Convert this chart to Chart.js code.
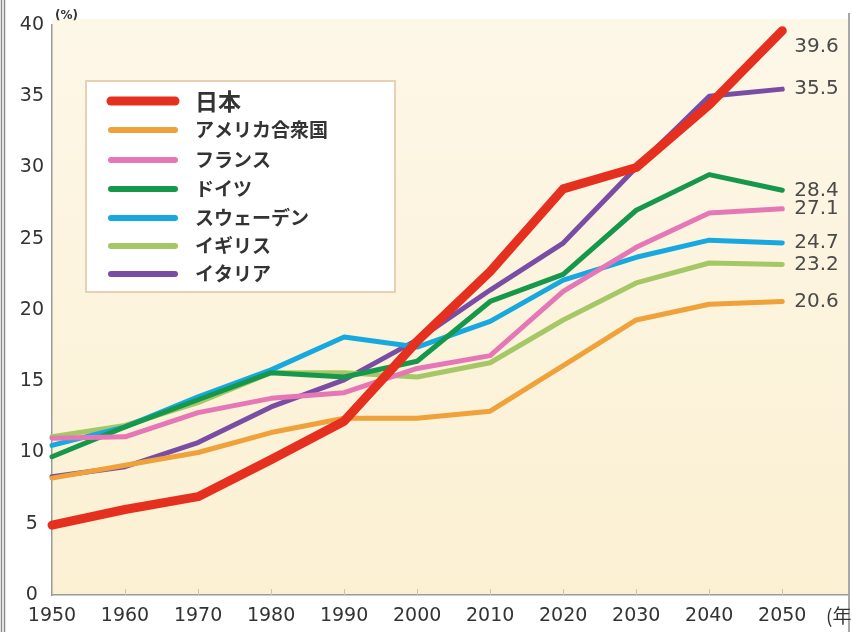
<!DOCTYPE html>
<html lang="ja">
<head>
<meta charset="utf-8">
<title>高齢化率の推移</title>
<script src="https://cdn.jsdelivr.net/npm/chart.js@4/dist/chart.umd.min.js"></script>
<style>
  html, body { margin: 0; padding: 0; background: #fff; }
  #wrap { position: relative; width: 852px; height: 632px; }
</style>
</head>
<body>
<div id="wrap"><canvas id="chart"></canvas></div>
<script>
// 年次と国別の値（%）
const years = [1950, 1960, 1970, 1980, 1990, 2000, 2010, 2020, 2030, 2040, 2050];
const names = ['日本', 'アメリカ合衆国', 'フランス', 'ドイツ', 'スウェーデン', 'イギリス', 'イタリア'];

const japan   = [4.9, 6.0, 6.9, 9.5, 12.2, 17.8, 22.7, 28.5, 30.0, 34.4, 39.6];
const usa     = [8.2, 9.1, 10.0, 11.4, 12.4, 12.4, 12.9, 16.1, 19.3, 20.4, 20.6];
const france  = [11.0, 11.1, 12.8, 13.8, 14.2, 15.9, 16.8, 21.3, 24.4, 26.8, 27.1];
const germany = [9.7, 11.8, 13.7, 15.6, 15.3, 16.4, 20.6, 22.5, 27.0, 29.5, 28.4];
const sweden  = [10.5, 11.8, 13.9, 15.8, 18.1, 17.4, 19.2, 22.1, 23.7, 24.9, 24.7];
const uk      = [11.1, 11.9, 13.5, 15.6, 15.6, 15.3, 16.3, 19.3, 21.9, 23.3, 23.2];
const italy   = [8.3, 9.0, 10.7, 13.2, 15.1, 17.9, 21.4, 24.7, 30.0, 35.0, 35.5];

const yMin = 0, yMax = 40, yStep = 5;

const series = [japan, usa, france, germany, sweden, uk, italy];
const colors = ['#e5301f', '#efa13a', '#e577b6', '#15984b', '#17a8e0', '#a6c765', '#7a4da4'];
const widths = [9, 5, 5, 5, 5, 5, 5];

const NUM_FONT = 'DejaVu Sans';
const JP_FONT = '"Noto Sans CJK JP", sans-serif';

const datasets = series.map((vals, i) => ({
    label: names[i],
    data: years.map((yr, k) => ({ x: yr, y: vals[k] })),
    borderColor: colors[i],
    backgroundColor: colors[i],
    borderWidth: widths[i],
    borderCapStyle: 'round',
    borderJoinStyle: 'round',
    pointRadius: 0,
    tension: 0,
    clip: false
}));

const decor = {
    id: 'decor',
    beforeDraw(chart) {
        const { ctx, chartArea: a, width, height } = chart;
        ctx.save();
        ctx.fillStyle = '#fff';
        ctx.fillRect(0, 0, width, height);

        // クリーム色の描画領域
        const g = ctx.createLinearGradient(0, a.top - 6, 0, a.bottom);
        g.addColorStop(0, '#fdf7e8');
        g.addColorStop(1, '#fbf0d2');
        ctx.fillStyle = g;
        ctx.fillRect(a.left, a.top - 6, a.right - a.left, a.bottom - a.top + 6);

        // 枠線
        ctx.strokeStyle = '#8a8a8a';
        ctx.lineWidth = 1.5;
        ctx.beginPath();
        ctx.moveTo(1.5, 0); ctx.lineTo(1.5, height);
        ctx.moveTo(4.5, 0); ctx.lineTo(4.5, height);
        ctx.moveTo(a.right + 1, a.top - 12); ctx.lineTo(a.right + 1, height);
        ctx.stroke();
        ctx.restore();
    },
    beforeDatasetsDraw(chart) {
        const { ctx, chartArea: a, scales } = chart;
        ctx.save();
        ctx.strokeStyle = '#cfc4a8';
        ctx.lineWidth = 1;
        ctx.beginPath();
        years.slice(1).forEach(yr => {
            const x = Math.round(scales.x.getPixelForValue(yr)) + 0.5;
            ctx.moveTo(x, a.bottom);
            ctx.lineTo(x, a.bottom - 6);
        });
        ctx.stroke();
        ctx.restore();
    },
    afterDatasetsDraw(chart) {
        const { ctx, chartArea: a } = chart;
        ctx.save();

        // 2050年の値
        ctx.font = `20px ${NUM_FONT}`;
        ctx.fillStyle = '#4a4a4a';
        ctx.textAlign = 'left';
        ctx.textBaseline = 'middle';
        chart.data.datasets.forEach((ds, i) => {
            const pts = chart.getDatasetMeta(i).data;
            const last = pts[pts.length - 1];
            const y = Math.max(last.y, a.top + 22);
            ctx.fillText(ds.data[ds.data.length - 1].y.toFixed(1), last.x + 12, y);
        });

        // 単位
        ctx.font = `bold 12px ${NUM_FONT}`;
        ctx.fillStyle = '#333';
        ctx.fillText('(%)', a.left + 3, a.top - 9);
        ctx.font = `19px ${JP_FONT}`;
        ctx.fillText('(年)', 826, a.bottom + 21);

        // 凡例
        const box = { x: 86, y: 81, w: 309, h: 211 };
        ctx.fillStyle = '#ffffff';
        ctx.fillRect(box.x, box.y, box.w, box.h);
        ctx.strokeStyle = '#e4d2b2';
        ctx.lineWidth = 2;
        ctx.strokeRect(box.x, box.y, box.w, box.h);

        const rowY = [101, 130, 160, 189, 218, 246, 274];
        chart.data.datasets.forEach((ds, i) => {
            const y = rowY[i];
            ctx.strokeStyle = ds.borderColor;
            ctx.lineWidth = i === 0 ? 9 : 6;
            ctx.lineCap = 'round';
            ctx.beginPath();
            ctx.moveTo(111, y);
            ctx.lineTo(175, y);
            ctx.stroke();

            ctx.fillStyle = '#333';
            ctx.font = i === 0 ? `bold 23px ${JP_FONT}` : `bold 19px ${JP_FONT}`;
            ctx.fillText(ds.label, 195, y);
        });
        ctx.restore();
    }
};

new Chart(document.getElementById('chart'), {
    type: 'line',
    data: { datasets },
    options: {
        responsive: true,
        maintainAspectRatio: false,
        animation: false,
        layout: { padding: { top: 25, right: 4, bottom: 0, left: 0 } },
        plugins: {
            legend: { display: false },
            tooltip: { enabled: false }
        },
        scales: {
            x: {
                type: 'linear',
                min: 1950,
                max: 2059,
                grid: { display: false, drawTicks: false },
                border: { display: true, color: '#9a9a9a', width: 1.5 },
                afterBuildTicks: (scale) => { scale.ticks = years.map(v => ({ value: v })); },
                afterFit: (scale) => { scale.height = 37; },
                ticks: {
                    padding: 10,
                    maxRotation: 0,
                    autoSkip: false,
                    color: '#333',
                    font: { family: NUM_FONT, size: 19 },
                    callback: (v) => String(v)
                }
            },
            y: {
                min: yMin,
                max: yMax,
                grid: { display: false, drawTicks: false },
                border: { display: true, color: '#9a9a9a', width: 1.5 },
                afterFit: (scale) => { scale.width = 52; },
                ticks: {
                    stepSize: yStep,
                    padding: 8,
                    crossAlign: 'center',
                    color: '#333',
                    font: { family: NUM_FONT, size: 19 }
                }
            }
        }
    },
    plugins: [decor]
});
</script>
</body>
</html>
